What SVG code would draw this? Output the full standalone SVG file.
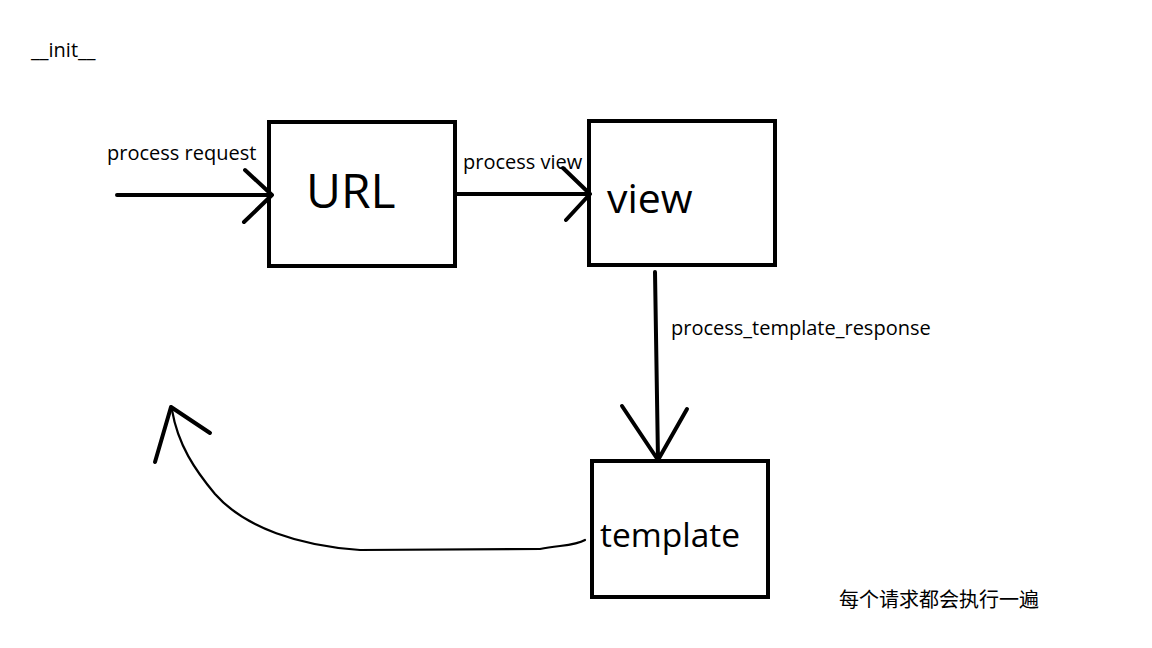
<svg xmlns="http://www.w3.org/2000/svg" width="1152" height="648" viewBox="0 0 1152 648">
<style>
.box{fill:none;stroke:#000;stroke-width:4}
.ln{fill:none;stroke:#000;stroke-width:4;stroke-linecap:round;stroke-linejoin:round}
.thin{fill:none;stroke:#000;stroke-width:2.2;stroke-linecap:round;stroke-linejoin:round}
text{font-family:"Open Sans","Noto Sans","Noto Sans CJK SC",sans-serif;fill:#000}
.lbl{font-size:20px}
</style>
<rect width="1152" height="648" fill="#fff"/>
<text class="lbl" x="31" y="57">__init__</text>
<g id="url"><rect class="box" x="269" y="122" width="186" height="144"/><text x="306" y="208" font-size="48">URL</text></g>
<g id="view"><rect class="box" x="589" y="121" width="186" height="144"/><text x="607" y="213" font-size="41">view</text></g>
<g id="template"><rect class="box" x="592" y="461" width="176" height="136"/><text x="600" y="547" font-size="33.5">template</text></g>
<g id="connectors">
<path class="ln" d="M117,195 L272,195 M245,170 L272,195 L244,222"/>
<path class="ln" d="M455,194 L590,194 M563,168 L590,194 L566,220"/>
<path class="ln" d="M655,272 L658,460 M622,406 L658,460 L687,409"/>
<path class="thin" d="M585,540 C575,546 560,545 540,549 L360,550 C300,546 245,528 215,494 C195,470 178,445 172,410"/>
<path class="ln" d="M155,462 L171,407 L210,433"/>
</g>
<text class="lbl" x="107" y="160">process request</text>
<text class="lbl" x="463" y="169">process view</text>
<text class="lbl" x="671" y="335">process_template_response</text>
<text x="839" y="607" font-size="20">每个请求都会执行一遍</text>
</svg>
